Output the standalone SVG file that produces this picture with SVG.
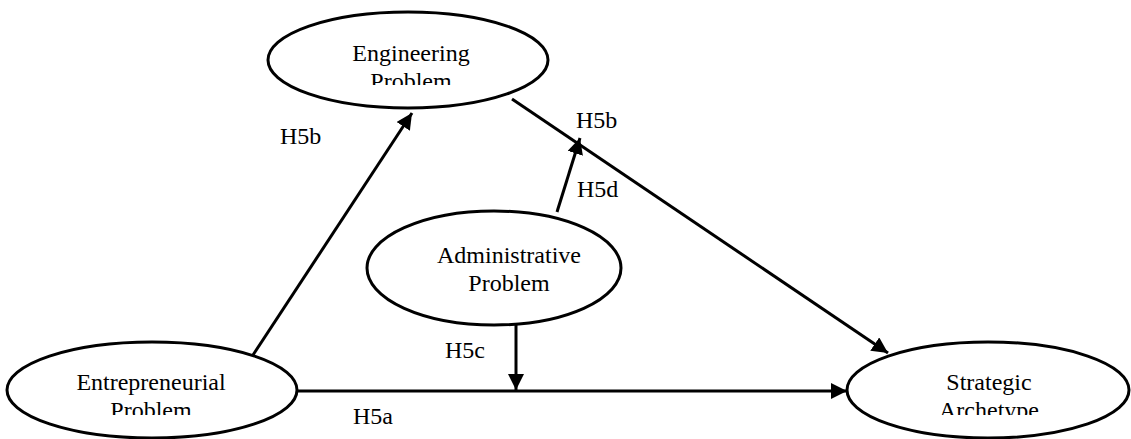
<svg xmlns="http://www.w3.org/2000/svg" width="1131" height="439" viewBox="0 0 1131 439" font-family="'Times New Roman', 'Liberation Serif', serif">
<style>
.node ellipse{fill:#fff;stroke:#000;stroke-width:3}
text{font-family:'Times New Roman','Liberation Serif',serif;font-size:24px;fill:#000}
.c{text-anchor:middle}
.edge{stroke:#000;stroke-width:3;fill:none;marker-end:url(#arr)}
</style>
<defs>
<marker id="arr" markerUnits="userSpaceOnUse" markerWidth="18" markerHeight="16" refX="16" refY="8" orient="auto">
<path d="M0,0 L16,8 L0,16 Z" fill="#000"/>
</marker>
<clipPath id="cEng"><rect x="260" y="0" width="300" height="85"/></clipPath>
<clipPath id="cEnt"><rect x="0" y="340" width="310" height="75"/></clipPath>
<clipPath id="cStr"><rect x="840" y="340" width="291" height="75"/></clipPath>
</defs>
<g id="connectors">
<line class="edge" x1="253" y1="355" x2="412" y2="113"/>
<line class="edge" x1="512" y1="99" x2="888" y2="353"/>
<line class="edge" x1="296" y1="391" x2="847" y2="391"/>
<line class="edge" x1="516" y1="325" x2="516" y2="390"/>
<line class="edge" x1="557" y1="212" x2="580" y2="138"/>
</g>
<g id="engineering" class="node">
<ellipse cx="408" cy="60" rx="140" ry="48"/>
<g clip-path="url(#cEng)"><text class="c" x="411" y="61">Engineering</text><text class="c" x="411" y="89">Problem</text></g>
</g>
<g id="administrative" class="node">
<ellipse cx="494" cy="268" rx="127" ry="57"/>
<text class="c" x="509" y="263">Administrative</text><text class="c" x="509" y="291">Problem</text>
</g>
<g id="entrepreneurial" class="node">
<ellipse cx="152" cy="390" rx="145" ry="48"/>
<g clip-path="url(#cEnt)"><text class="c" x="151" y="390">Entrepreneurial</text><text class="c" x="151" y="418">Problem</text></g>
</g>
<g id="strategic" class="node">
<ellipse cx="988" cy="390" rx="141" ry="48"/>
<g clip-path="url(#cStr)"><text class="c" x="989" y="390">Strategic</text><text class="c" x="989" y="418">Archetype</text></g>
</g>
<g id="labels">
<text x="280" y="144">H5b</text>
<text x="576" y="128">H5b</text>
<text x="577" y="197">H5d</text>
<text x="445" y="358">H5c</text>
<text x="353" y="424">H5a</text>
</g>
</svg>
